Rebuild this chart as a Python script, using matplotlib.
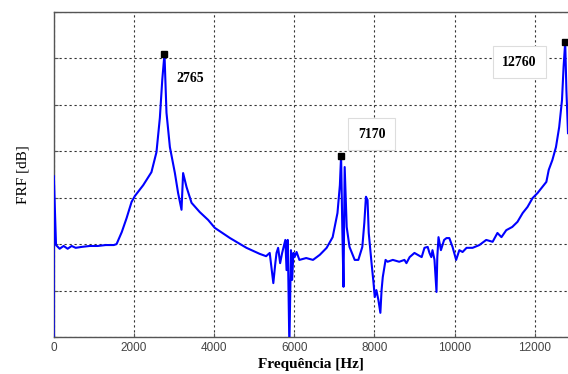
import matplotlib
matplotlib.use("Agg")
import matplotlib.pyplot as plt

# -------- Data --------
freq = [0, 5, 60, 150, 250, 350, 450, 550, 700, 900, 1100, 1300, 1500, 1570,
        1700, 1820, 1945, 2030, 2235, 2440, 2565, 2650, 2710, 2765, 2790, 2815,
        2900, 3025, 3105, 3190, 3230, 3315, 3440, 3645, 3855, 4020, 4400, 4810,
        5140, 5300, 5390, 5440, 5480, 5530, 5560, 5600, 5650, 5700, 5780, 5810,
        5840, 5880, 5920, 5950, 5980, 6010, 6060, 6130, 6300, 6470, 6640, 6810,
        6960, 7080, 7140, 7170, 7200, 7230, 7260, 7310, 7380, 7510, 7600, 7700,
        7750, 7790, 7830, 7860, 7930, 7980, 8010, 8050, 8100, 8150, 8180, 8210,
        8280, 8330, 8460, 8620, 8750, 8800, 8880, 9000, 9080, 9180, 9250, 9330,
        9375, 9420, 9450, 9500, 9550, 9570, 9600, 9660, 9740, 9800, 9870, 9950,
        10040, 10120, 10200, 10300, 10450, 10620, 10790, 10950, 11070, 11170,
        11290, 11440, 11570, 11700, 11820, 11945, 12070, 12190, 12290, 12350,
        12440, 12530, 12610, 12680, 12720, 12760, 12790, 12830]

frf_db = [-62, -25.3, -40.2, -41.0, -40.4, -41.0, -40.4, -40.8, -40.6, -40.4,
          -40.4, -40.2, -40.2, -40.0, -37.4, -34.4, -30.9, -29.6, -27.3, -24.5,
          -20.2, -12.8, -4.6, 1.0, -5.7, -11.7, -19.1, -24.7, -29.0, -32.6,
          -24.7, -27.7, -31.1, -33.1, -34.8, -36.5, -38.7, -40.8, -42.1, -42.6,
          -41.9, -45.6, -48.4, -44.1, -41.9, -40.8, -44.1, -41.9, -39.1, -45.6,
          -39.1, -62, -41.3, -47.7, -41.9, -42.8, -41.7, -43.4, -43.0, -43.4,
          -42.3, -40.8, -38.5, -33.3, -27.3, -21.0, -36.3, -49.2, -23.4, -36.3,
          -40.6, -43.4, -43.4, -40.6, -35.4, -29.8, -30.5, -37.6, -44.1, -48.4,
          -51.4, -49.9, -52.0, -54.8, -49.9, -47.1, -43.4, -43.8, -43.4, -43.8,
          -43.4, -44.1, -42.8, -41.9, -42.3, -42.8, -40.8, -40.6, -41.9, -42.8,
          -41.3, -43.4, -50.3, -42.8, -38.5, -41.3, -39.1, -38.7, -38.7, -40.6,
          -43.4, -41.3, -41.7, -40.8, -40.8, -40.2, -39.1, -39.5, -37.6, -38.5,
          -37.0, -36.3, -35.2, -33.3, -32.0, -30.1, -29.0, -27.7, -26.6, -24.0,
          -21.9, -19.1, -14.8, -9.0, -1.8, 3.5, -6.8, -16.1]

peak_freq = [2765, 7170, 12760]
peak_db = [1.0, -21.0, 3.5]
peak_labels = ["2765", "7170", "12760"]
label_pos = [(3400, -4.4), (7930, -16.3), (11620, -0.8)]
label_boxed = [False, True, True]

xticks = [0, 2000, 4000, 6000, 8000, 10000, 12000]

# -------- Plot --------
fig = plt.figure(figsize=(5.68, 3.74), dpi=100)
ax = fig.add_axes([0.0944, 0.099, 0.9056, 0.869])

ax.plot(freq, frf_db, color="#0000ff", lw=1.5, zorder=3)
ax.plot(peak_freq, peak_db, "s", color="black", ms=5, zorder=4)

for txt, (tx, ty), boxed in zip(peak_labels, label_pos, label_boxed):
    bbox = dict(boxstyle="square,pad=0.7", fc="white", ec="#dddddd", lw=0.8) if boxed else None
    ax.text(tx, ty, txt, ha="center", va="center", fontsize=10,
            fontfamily="Liberation Serif", fontweight="bold", bbox=bbox, zorder=5)

ax.set_xlim(0, 12830)
ax.set_ylim(-60, 10)
ax.set_xticks(xticks)
ax.set_yticks(range(-60, 11, 10))
ax.set_yticklabels([])

ax.grid(True, color="#333333", linestyle=(0, (2, 2.5)), lw=0.8, zorder=1)
ax.tick_params(direction="in", length=3, labelsize=8.5, labelcolor="#444444",
               color="#555555")
for lbl in ax.get_xticklabels():
    lbl.set_fontfamily("Liberation Sans")

for side in ["left", "bottom", "top"]:
    ax.spines[side].set_color("#555555")
    ax.spines[side].set_linewidth(1.0)
ax.spines["right"].set_visible(False)

ax.set_xlabel("Frequência [Hz]", fontfamily="Liberation Serif", fontweight="bold",
              fontsize=11, labelpad=3)
ax.set_ylabel("FRF [dB]", fontfamily="Liberation Serif", fontsize=11, labelpad=14)

fig.savefig("out.png", dpi=100)
